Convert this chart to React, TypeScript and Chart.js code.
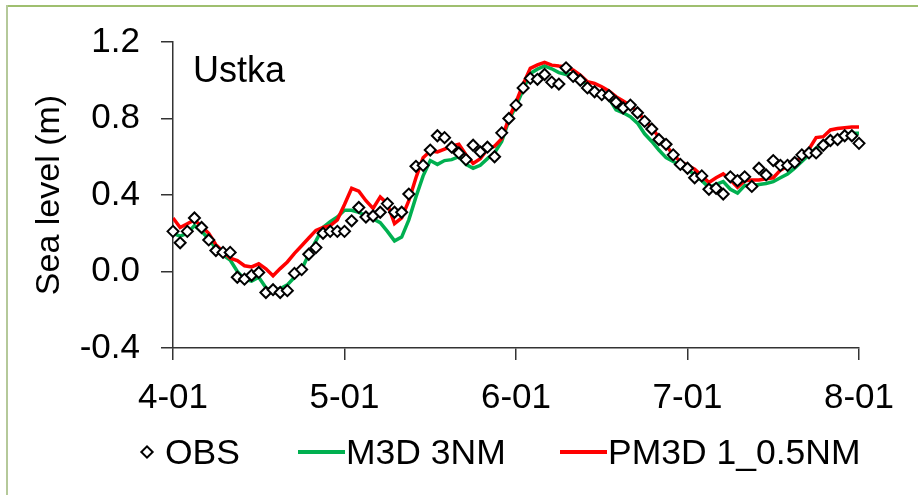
import React, { useEffect, useRef } from 'react';
import { Chart, registerables } from 'chart.js';

Chart.register(...registerables);

const FONT = "'Liberation Sans', Arial, sans-serif";

const stationName = 'Ustka';
const yTitle = 'Sea level (m)';
const xTickLabels = ['4-01', '5-01', '6-01', '7-01', '8-01'];
const xTickValues = [0, 24, 48, 72, 96];
const yTickValues = [-0.4, 0, 0.4, 0.8, 1.2];
const seriesNames = ['OBS', 'M3D 3NM', 'PM3D 1_0.5NM'];

// hourly time steps (x positions of the samples)
const hours = Array.from({ length: 97 }, (_, i) => i);

const obs = [
  0.21, 0.15, 0.21, 0.28, 0.23, 0.165, 0.11, 0.10, 0.10, -0.03,
  -0.04, -0.02, -0.005, -0.11, -0.095, -0.11, -0.10, -0.01, 0.01, 0.09,
  0.125, 0.20, 0.21, 0.21, 0.21, 0.265, 0.335, 0.285, 0.29, 0.31,
  0.355, 0.31, 0.31, 0.405, 0.55, 0.555, 0.635, 0.71, 0.70, 0.65,
  0.62, 0.585, 0.66, 0.625, 0.65, 0.60, 0.725, 0.80, 0.87, 0.96,
  1.01, 1.005, 1.03, 0.99, 0.98, 1.065, 1.02, 1.00, 0.96, 0.94,
  0.925, 0.92, 0.885, 0.855, 0.87, 0.83, 0.785, 0.745, 0.69, 0.665,
  0.61, 0.56, 0.54, 0.49, 0.50, 0.43, 0.435, 0.405, 0.495, 0.475,
  0.495, 0.445, 0.54, 0.505, 0.58, 0.555, 0.555, 0.57, 0.61, 0.62,
  0.62, 0.66, 0.685, 0.69, 0.71, 0.71, 0.67,
];

const m3d = [
  0.20, 0.185, 0.20, 0.24, 0.21, 0.17, 0.12, 0.085, 0.06, 0.0,
  -0.04, -0.05, -0.03, -0.085, -0.105, -0.09, -0.07, -0.03, 0.01, 0.09,
  0.16, 0.23, 0.26, 0.285, 0.32, 0.32, 0.31, 0.29, 0.275, 0.255,
  0.21, 0.16, 0.18, 0.27, 0.39, 0.50, 0.58, 0.56, 0.58, 0.585,
  0.60, 0.56, 0.54, 0.555, 0.59, 0.62, 0.68, 0.79, 0.865, 0.95,
  1.035, 1.058, 1.075, 1.06, 1.04, 1.03, 1.035, 1.01, 0.97, 0.945,
  0.93, 0.905, 0.845, 0.83, 0.81, 0.776, 0.72, 0.68, 0.635, 0.595,
  0.575, 0.555, 0.535, 0.505, 0.475, 0.44, 0.455, 0.47, 0.43, 0.41,
  0.45, 0.45, 0.455, 0.46, 0.47, 0.49, 0.51, 0.54, 0.575, 0.61,
  0.645, 0.67, 0.685, 0.70, 0.715, 0.723, 0.723,
];

const pm3d = [
  0.28, 0.23, 0.25, 0.27, 0.235, 0.20, 0.14, 0.105, 0.07, 0.057,
  0.03, 0.024, 0.04, 0.014, -0.022, 0.015, 0.05, 0.095, 0.135, 0.175,
  0.215, 0.23, 0.24, 0.27, 0.35, 0.435, 0.42, 0.37, 0.33, 0.39,
  0.355, 0.25, 0.28, 0.37, 0.49, 0.595, 0.63, 0.625, 0.64, 0.655,
  0.665, 0.61, 0.565, 0.59, 0.64, 0.655, 0.695, 0.80, 0.885, 0.98,
  1.062, 1.08, 1.093, 1.079, 1.074, 1.07, 1.053, 1.027, 0.992, 0.983,
  0.966, 0.944, 0.914, 0.892, 0.868, 0.836, 0.79, 0.755, 0.70, 0.66,
  0.61, 0.575, 0.555, 0.535, 0.50, 0.465, 0.49, 0.51, 0.48, 0.44,
  0.475, 0.478, 0.478, 0.485, 0.49, 0.53, 0.55, 0.565, 0.605, 0.64,
  0.70, 0.705, 0.74, 0.748, 0.752, 0.755, 0.755,
];

const GREEN = '#00b050';
const RED = '#ff0000';

export default function App() {
  const ref = useRef<HTMLCanvasElement>(null);

  useEffect(() => {
    const canvas = ref.current;
    if (!canvas) return;
    const toXY = (arr: number[]) => arr.map((v, i) => ({ x: hours[i], y: v }));

    const stationLabel = {
      id: 'stationLabel',
      afterDraw(chart: any) {
        const { ctx, chartArea } = chart;
        ctx.save();
        ctx.font = `36px ${FONT}`;
        ctx.fillStyle = '#000';
        ctx.textBaseline = 'alphabetic';
        ctx.textAlign = 'left';
        ctx.fillText(stationName, chartArea.left + 20, chartArea.top + 40);
        ctx.restore();
      },
    };

    const chart = new Chart(canvas, {
      type: 'line',
      data: {
        datasets: [
          {
            label: seriesNames[0],
            data: toXY(obs),
            showLine: false,
            pointStyle: 'rectRot',
            pointRadius: 5.5,
            pointBorderWidth: 2,
            pointBorderColor: '#000',
            pointBackgroundColor: '#fff',
            borderColor: '#000',
            backgroundColor: '#fff',
            clip: false as any,
          },
          {
            label: seriesNames[2],
            data: toXY(pm3d),
            borderColor: RED,
            backgroundColor: RED,
            borderWidth: 3.5,
            pointRadius: 0,
            tension: 0,
          },
          {
            label: seriesNames[1],
            data: toXY(m3d),
            borderColor: GREEN,
            backgroundColor: GREEN,
            borderWidth: 3.5,
            pointRadius: 0,
            tension: 0,
          },
        ],
      },
      options: {
        responsive: false,
        animation: false,
        events: [],
        layout: { padding: { left: 29.6, right: 59, top: 40, bottom: 59 } },
        plugins: { legend: { display: false }, tooltip: { enabled: false } },
        scales: {
          x: {
            type: 'linear',
            min: 0,
            max: 96,
            afterBuildTicks: (s: any) => {
              s.ticks = xTickValues.map((v) => ({ value: v }));
            },
            ticks: {
              callback: (_v: any, i: number) => xTickLabels[i],
              font: { family: FONT, size: 35 },
              color: '#000',
              padding: 17,
              maxRotation: 0,
              autoSkip: false,
            },
            grid: { drawOnChartArea: false, tickLength: 12, color: '#333', lineWidth: 1.5 },
            border: { color: '#333', width: 1.5 },
          },
          y: {
            min: -0.4,
            max: 1.2,
            afterBuildTicks: (s: any) => {
              s.ticks = yTickValues.map((v) => ({ value: v }));
            },
            ticks: {
              callback: (_v: any, i: number) => yTickValues[i].toFixed(1),
              font: { family: FONT, size: 35 },
              color: '#000',
              padding: 21,
            },
            grid: { drawOnChartArea: false, tickLength: 12, color: '#333', lineWidth: 1.5 },
            border: { color: '#333', width: 1.5 },
            title: {
              display: true,
              text: yTitle,
              font: { family: FONT, size: 34, lineHeight: 1.2 },
              color: '#000',
              padding: { top: 0, bottom: -11.7 },
            },
          },
        },
      },
      plugins: [stationLabel],
    } as any);

    return () => chart.destroy();
  }, []);

  const textStyle: React.CSSProperties = {
    position: 'absolute',
    top: 432,
    fontFamily: FONT,
    fontSize: 35.5,
    lineHeight: '40px',
    color: '#000',
    whiteSpace: 'nowrap',
  };

  return (
    <div style={{ position: 'fixed', left: 0, top: 0, width: 918, height: 495, background: '#fff', overflow: 'hidden' }}>
      <canvas ref={ref} width={918} height={495} style={{ position: 'absolute', left: 0, top: 0 }} />
      <div style={{ position: 'absolute', left: 6, top: 5, width: 912, height: 2, background: '#9fbf6f' }} />
      <div style={{ position: 'absolute', left: 6, top: 5, width: 2, height: 490, background: '#b5c99a' }} />
      {/* legend */}
      <div
        style={{
          position: 'absolute',
          left: 147 - 4,
          top: 452 - 4,
          width: 6,
          height: 6,
          border: '2px solid #000',
          transform: 'rotate(45deg)',
          boxSizing: 'content-box',
          marginLeft: -1,
          marginTop: -1,
        }}
      />
      <span style={{ ...textStyle, left: 165 }}>{seriesNames[0]}</span>
      <div style={{ position: 'absolute', left: 298, top: 450, width: 47, height: 4, background: GREEN }} />
      <span style={{ ...textStyle, left: 346 }}>{seriesNames[1]}</span>
      <div style={{ position: 'absolute', left: 560, top: 450, width: 47, height: 4, background: RED }} />
      <span style={{ ...textStyle, left: 608 }}>{seriesNames[2]}</span>
    </div>
  );
}
